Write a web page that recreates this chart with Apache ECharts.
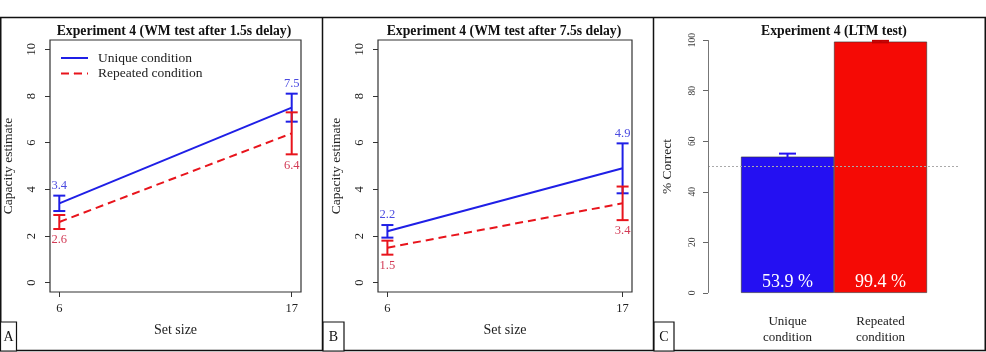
<!DOCTYPE html>
<html><head><meta charset="utf-8">
<script src="https://cdn.jsdelivr.net/npm/echarts@6/dist/echarts.min.js"></script>
<style>html,body{margin:0;padding:0;background:#fff}#c{width:986px;height:352px}</style>
</head><body><div id="c"></div>
<script>
// ---- data ----
const setSizes = [6, 17];
const uniqueA = [3.4, 7.5];
const uniqueAErr = [0.33, 0.6];
const repeatedA = [2.6, 6.4];
const repeatedAErr = [0.3, 0.9];
const uniqueB = [2.2, 4.9];
const uniqueBErr = [0.27, 1.07];
const repeatedB = [1.5, 3.4];
const repeatedBErr = [0.3, 0.72];
const capTicks = [0, 2, 4, 6, 8, 10];
const ltmCategories = ['Unique\ncondition', 'Repeated\ncondition'];
const ltmValues = [53.9, 99.4];
const ltmErr = [1.2, 0.3];
const ltmTicks = [0, 20, 40, 60, 80, 100];
const chanceLevel = 50;

const FONT = '"Liberation Serif", "DejaVu Serif", serif';
const BLUE = '#1f1fe6';
const RED = '#e8141c';
const BLUE_LBL = '#4b4be0';
const RED_LBL = '#d23a55';
const BAR_BLUE = '#2410f2';
const BAR_RED = '#f50a05';

function errSeries(idx, means, errs, color, lblColor, above) {
  return {
    type: 'custom', xAxisIndex: idx, yAxisIndex: idx, z: 5, clip: false,
    data: setSizes.map((x, i) => [x, means[i], means[i] - errs[i], means[i] + errs[i]]),
    renderItem(params, api) {
      const x = api.value(0);
      const top = api.coord([x, api.value(3)]);
      const bot = api.coord([x, api.value(2)]);
      const w = 6;
      const st = { stroke: color, lineWidth: 2 };
      const ty = above ? top[1] - 10 : bot[1] + 11;
      return { type: 'group', children: [
        { type: 'line', shape: { x1: top[0], y1: top[1], x2: bot[0], y2: bot[1] }, style: st },
        { type: 'line', shape: { x1: top[0] - w, y1: top[1], x2: top[0] + w, y2: top[1] }, style: st },
        { type: 'line', shape: { x1: bot[0] - w, y1: bot[1], x2: bot[0] + w, y2: bot[1] }, style: st },
        { type: 'text', style: { text: api.value(1).toFixed(1), x: top[0], y: ty, align: 'center', verticalAlign: 'middle', fill: lblColor, fontSize: 12.5, fontFamily: FONT } }
      ] };
    }
  };
}

function lineSeries(idx, name, vals, color, dashed) {
  return {
    type: 'line', name, xAxisIndex: idx, yAxisIndex: idx, symbol: 'none', z: 4,
    data: setSizes.map((x, i) => [x, vals[i]]),
    lineStyle: { color, width: 2, type: dashed ? [8, 5] : 'solid' },
    itemStyle: { color }
  };
}

function capXAxis(idx) {
  return {
    type: 'value', gridIndex: idx, min: 5.56, max: 17.44,
    name: 'Set size', nameLocation: 'middle', nameGap: 31,
    nameTextStyle: { fontFamily: FONT, fontSize: 14, color: '#222' },
    axisLine: { show: false, onZero: false }, splitLine: { show: false },
    axisTick: { show: true, customValues: setSizes, length: 5, inside: false, lineStyle: { color: '#333' } },
    axisLabel: { customValues: setSizes, margin: 10, fontFamily: FONT, fontSize: 12.5, color: '#222' }
  };
}
function capYAxis(idx) {
  return {
    type: 'value', gridIndex: idx, min: -0.4, max: 10.4,
    name: 'Capacity estimate', nameLocation: 'middle', nameGap: 35,
    nameTextStyle: { fontFamily: FONT, fontSize: 13.5, color: '#222' },
    axisLine: { show: false, onZero: false }, splitLine: { show: false },
    axisTick: { show: true, customValues: capTicks, length: 5, lineStyle: { color: '#333' } },
    axisLabel: { customValues: capTicks, rotate: 90, margin: 12, fontFamily: FONT, fontSize: 12.5, color: '#222' }
  };
}

const TITLE_STYLE = { fontFamily: FONT, fontSize: 13.7, fontWeight: 'bold', color: '#111' };

const option = {
  animation: false,
  backgroundColor: '#fff',
  title: [
    { text: 'Experiment 4 (WM test after 1.5s delay)', left: 174, top: 24, textAlign: 'center', padding: 0, textStyle: TITLE_STYLE },
    { text: 'Experiment 4 (WM test after 7.5s delay)', left: 504, top: 24, textAlign: 'center', padding: 0, textStyle: TITLE_STYLE },
    { text: 'Experiment 4 (LTM test)', left: 834, top: 24, textAlign: 'center', padding: 0, textStyle: TITLE_STYLE }
  ],
  legend: {
    data: ['Unique condition', 'Repeated condition'], orient: 'vertical', left: 60, top: 51, padding: 0,
    itemWidth: 27, itemHeight: 2, itemGap: 1.5,
    textStyle: { fontFamily: FONT, fontSize: 13.5, color: '#222', padding: [0, 0, 0, 5] }
  },
  grid: [
    { left: 48, top: 40, width: 253, height: 252, show: true, borderColor: '#333', borderWidth: 1.2, backgroundColor: 'transparent' },
    { left: 378, top: 40, width: 254, height: 252, show: true, borderColor: '#333', borderWidth: 1.2, backgroundColor: 'transparent' },
    { left: 708, top: 30, width: 251, height: 273, show: false }
  ],
  xAxis: [
    capXAxis(0), capXAxis(1),
    { type: 'value', gridIndex: 2, min: 0.145, max: 2.844,
      axisLine: { show: false, onZero: false }, splitLine: { show: false }, axisTick: { show: false },
      axisLabel: { customValues: [1, 2], margin: 11, formatter: v => ltmCategories[Math.round(v) - 1] || '', fontFamily: FONT, fontSize: 13, lineHeight: 16, color: '#222' } }
  ],
  yAxis: [
    capYAxis(0), capYAxis(1),
    { type: 'value', gridIndex: 2, min: -4, max: 104,
      name: '% Correct', nameLocation: 'middle', nameGap: 34,
      nameTextStyle: { fontFamily: FONT, fontSize: 13.5, color: '#222' },
      axisLine: { show: false, onZero: false }, splitLine: { show: false },
      axisTick: { show: true, customValues: ltmTicks, length: 5, lineStyle: { color: '#666' } },
      axisLabel: { customValues: ltmTicks, rotate: 90, margin: 11, fontFamily: FONT, fontSize: 9.5, color: '#444' } }
  ],
  series: [
    lineSeries(0, 'Unique condition', uniqueA, BLUE, false),
    lineSeries(0, 'Repeated condition', repeatedA, RED, true),
    errSeries(0, uniqueA, uniqueAErr, BLUE, BLUE_LBL, true),
    errSeries(0, repeatedA, repeatedAErr, RED, RED_LBL, false),
    lineSeries(1, 'Unique condition', uniqueB, BLUE, false),
    lineSeries(1, 'Repeated condition', repeatedB, RED, true),
    errSeries(1, uniqueB, uniqueBErr, BLUE, BLUE_LBL, true),
    errSeries(1, repeatedB, repeatedBErr, RED, RED_LBL, false),
    {
      type: 'bar', xAxisIndex: 2, yAxisIndex: 2, barWidth: 93, clip: false,
      data: ltmValues.map((v, i) => ({ value: [i + 1, v], itemStyle: { color: i === 0 ? BAR_BLUE : BAR_RED } })),
      itemStyle: { borderColor: '#333', borderWidth: 0.6 },
      label: { show: true, position: 'insideBottom', distance: 2, formatter: p => p.value[1].toFixed(1) + ' %', color: '#fff', fontFamily: FONT, fontSize: 18 },
      markLine: {
        silent: true, symbol: 'none', label: { show: false },
        data: [
          [{ coord: [0.145, chanceLevel], lineStyle: { color: '#aaa', type: [2, 2], width: 1 } }, { coord: [2.844, chanceLevel] }],
          [{ coord: [0.145, 0], lineStyle: { color: '#777', type: 'solid', width: 1 } }, { coord: [0.145, 100] }]
        ]
      }
    },
    {
      type: 'custom', xAxisIndex: 2, yAxisIndex: 2, z: 5, clip: false,
      data: ltmValues.map((v, i) => [i + 1, v - ltmErr[i], Math.min(100, v + ltmErr[i])]),
      renderItem(params, api) {
        const x = api.value(0);
        const top = api.coord([x, api.value(2)]);
        const bot = api.coord([x, api.value(1)]);
        const c = params.dataIndex === 0 ? BAR_BLUE : '#c00000';
        const st = { stroke: c, lineWidth: 2 };
        const w = 8.5;
        return { type: 'group', children: [
          { type: 'line', shape: { x1: top[0], y1: top[1], x2: bot[0], y2: bot[1] }, style: st },
          { type: 'line', shape: { x1: top[0] - w, y1: top[1], x2: top[0] + w, y2: top[1] }, style: st },
          { type: 'line', shape: { x1: bot[0] - w, y1: bot[1], x2: bot[0] + w, y2: bot[1] }, style: st }
        ] };
      }
    }
  ],
  graphic: [
    { type: 'line', shape: { x1: 0, y1: 17.5, x2: 986, y2: 17.5 }, style: { stroke: '#111', lineWidth: 1.5 } },
    { type: 'line', shape: { x1: 0, y1: 350.5, x2: 986, y2: 350.5 }, style: { stroke: '#111', lineWidth: 1.5 } },
    { type: 'line', shape: { x1: 0.75, y1: 17, x2: 0.75, y2: 351 }, style: { stroke: '#111', lineWidth: 1.5 } },
    { type: 'line', shape: { x1: 985.25, y1: 17, x2: 985.25, y2: 351 }, style: { stroke: '#111', lineWidth: 1.5 } },
    { type: 'line', shape: { x1: 322.5, y1: 17, x2: 322.5, y2: 351 }, style: { stroke: '#111', lineWidth: 1.5 } },
    { type: 'line', shape: { x1: 653.5, y1: 17, x2: 653.5, y2: 351 }, style: { stroke: '#111', lineWidth: 1.5 } },
    { type: 'rect', shape: { x: 0.5, y: 322, width: 16, height: 29 }, style: { fill: '#fff', stroke: '#111', lineWidth: 1.2 } },
    { type: 'text', style: { text: 'A', x: 8.5, y: 337, align: 'center', verticalAlign: 'middle', fontFamily: FONT, fontSize: 14, fill: '#111' } },
    { type: 'rect', shape: { x: 323, y: 322, width: 21, height: 29 }, style: { fill: '#fff', stroke: '#111', lineWidth: 1.2 } },
    { type: 'text', style: { text: 'B', x: 333.5, y: 337, align: 'center', verticalAlign: 'middle', fontFamily: FONT, fontSize: 14, fill: '#111' } },
    { type: 'rect', shape: { x: 654, y: 322, width: 20, height: 29 }, style: { fill: '#fff', stroke: '#111', lineWidth: 1.2 } },
    { type: 'text', style: { text: 'C', x: 664, y: 337, align: 'center', verticalAlign: 'middle', fontFamily: FONT, fontSize: 14, fill: '#111' } }
  ]
};
const chart = echarts.init(document.getElementById('c'), null, { renderer: 'canvas' });
chart.setOption(option);
</script></body></html>
